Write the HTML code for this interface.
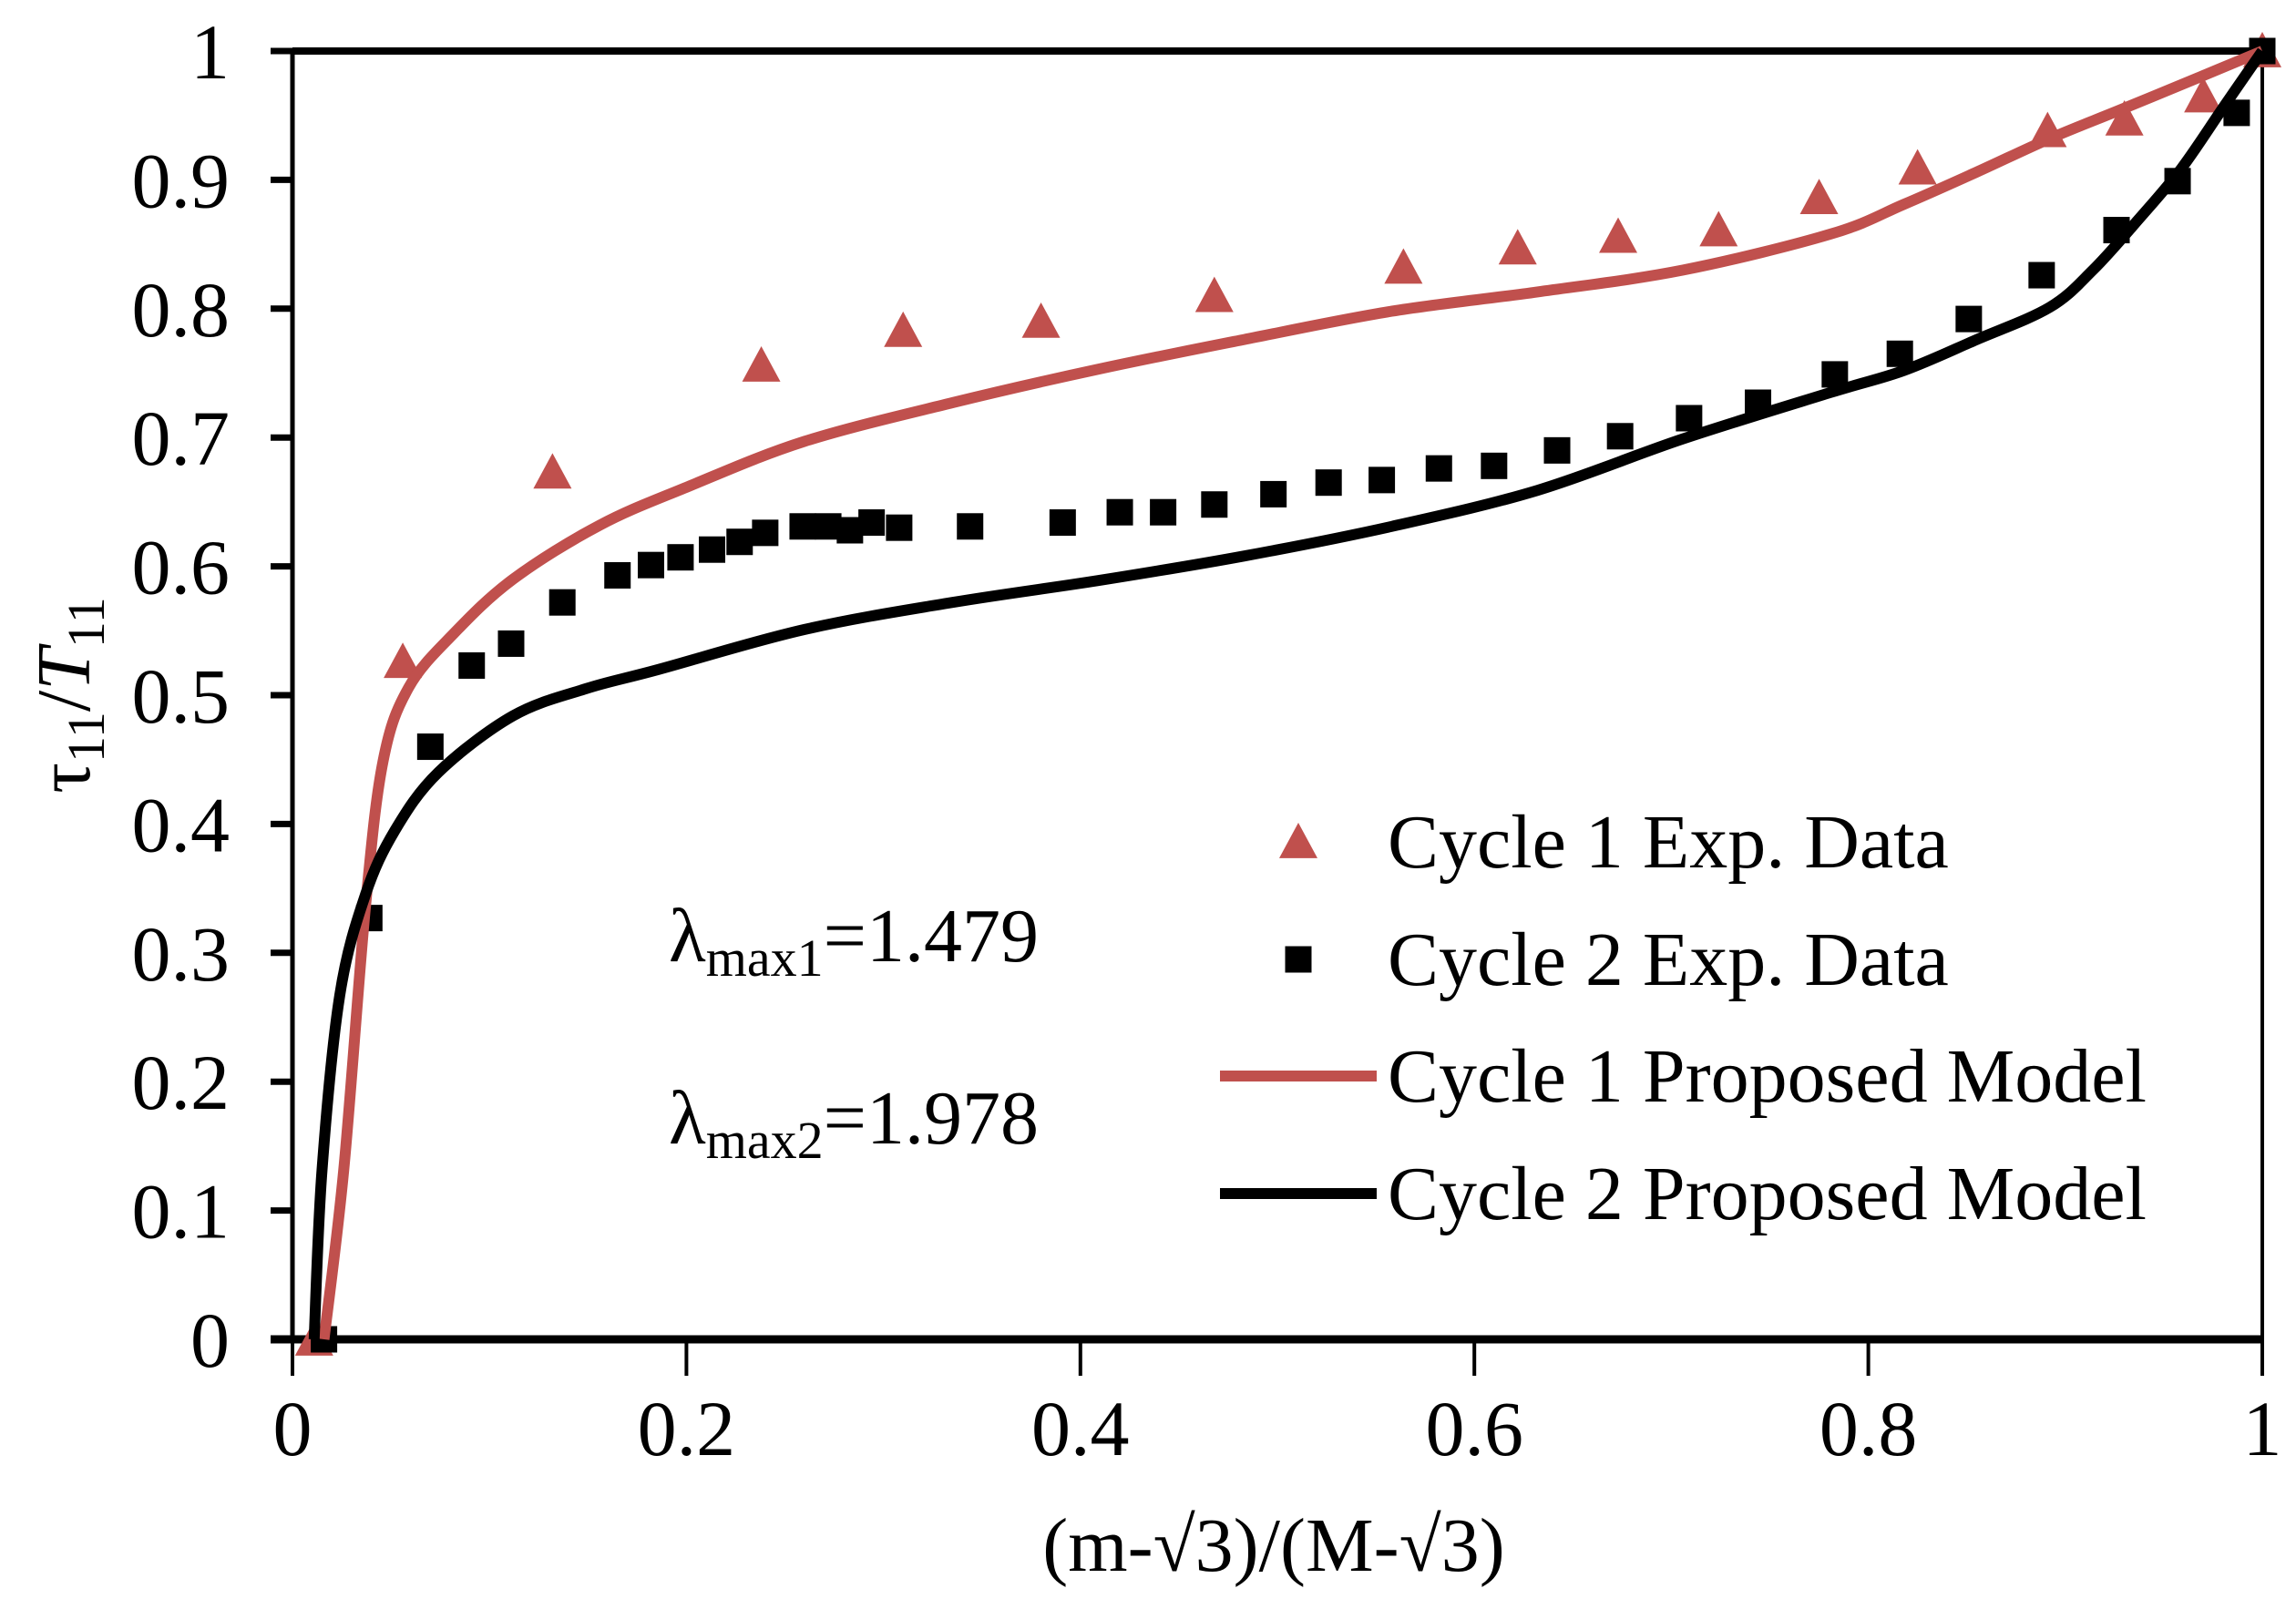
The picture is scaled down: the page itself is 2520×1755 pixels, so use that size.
<!DOCTYPE html>
<html><head><meta charset="utf-8"><style>
html,body{margin:0;padding:0;background:#fff;}
svg{display:block;font-family:"Liberation Serif",serif;}
</style></head><body>
<svg id="chart" width="2520" height="1755" viewBox="0 0 2520 1755" xmlns="http://www.w3.org/2000/svg">
<rect width="2520" height="1755" fill="#fff"/>
<g id="plot"></g>
</svg>
<script>
const xTicks=[0,0.2,0.4,0.6,0.8,1];
const xTickLabels=["0","0.2","0.4","0.6","0.8","1"];
const yTicks=[0,0.1,0.2,0.3,0.4,0.5,0.6,0.7,0.8,0.9,1];
const yTickLabels=["0","0.1","0.2","0.3","0.4","0.5","0.6","0.7","0.8","0.9","1"];
const c1ExpX=[0.011,0.056,0.132,0.238,0.310,0.380,0.468,0.564,0.622,0.673,0.724,0.775,0.825,0.891,0.930,0.970,1];
const c1ExpY=[0,0.526,0.673,0.756,0.783,0.790,0.810,0.832,0.847,0.856,0.861,0.886,0.909,0.938,0.947,0.965,1];
const c2ExpX=[0.016,0.039,0.070,0.091,0.111,0.137,0.165,0.182,0.197,0.213,0.227,0.240,0.259,0.272,0.283,0.294,0.308,0.344,0.391,0.420,0.442,0.468,0.498,0.526,0.553,0.582,0.610,0.642,0.674,0.709,0.744,0.783,0.816,0.851,0.888,0.926,0.957,0.987,1];
const c2ExpY=[0,0.327,0.460,0.523,0.540,0.572,0.593,0.601,0.607,0.613,0.619,0.626,0.631,0.631,0.628,0.634,0.630,0.631,0.634,0.642,0.642,0.648,0.656,0.665,0.667,0.676,0.678,0.690,0.701,0.715,0.727,0.749,0.765,0.792,0.826,0.861,0.899,0.952,1];
const c1ModelX=[0.016,0.026,0.037,0.046,0.059,0.082,0.112,0.156,0.201,0.260,0.335,0.409,0.483,0.558,0.632,0.706,0.781,0.818,0.855,0.892,0.929,0.967,1];
const c1ModelY=[0,0.131,0.335,0.449,0.506,0.548,0.590,0.632,0.662,0.697,0.727,0.753,0.776,0.798,0.813,0.830,0.858,0.881,0.906,0.932,0.955,0.979,1];
const c2ModelX=[0.011,0.015,0.024,0.037,0.052,0.074,0.112,0.149,0.186,0.260,0.335,0.409,0.483,0.558,0.632,0.706,0.781,0.818,0.855,0.892,0.914,0.937,0.959,0.981,1];
const c2ModelY=[0,0.131,0.267,0.345,0.395,0.440,0.484,0.505,0.520,0.551,0.572,0.589,0.608,0.631,0.659,0.699,0.735,0.752,0.776,0.801,0.830,0.869,0.909,0.958,1];

const X0=321,X1=2483,Y0=1470,Y1=56;
const sx=v=>X0+(X1-X0)*v;
const sy=v=>Y0-(Y0-Y1)*v;
const NS="http://www.w3.org/2000/svg";
const g=document.getElementById('plot');
function mk(tag,attrs,parent){const e=document.createElementNS(NS,tag);for(const k in attrs)e.setAttribute(k,attrs[k]);(parent||g).appendChild(e);return e;}
const RED="#c0504d";

let e;
e=mk('line',{x1:X0,y1:Y1,x2:X1,y2:Y1,stroke:'#000','stroke-width':8});


e=mk('line',{x1:X1,y1:Y1,x2:X1,y2:Y0,stroke:'#000','stroke-width':4});


e=mk('line',{x1:X0,y1:Y1,x2:X0,y2:Y0,stroke:'#000','stroke-width':5});


e=mk('line',{x1:X0-24,y1:Y0,x2:X1,y2:Y0,stroke:'#000','stroke-width':9});



yTicks.forEach((v,i)=>{
  let t=mk('line',{x1:X0-24,y1:sy(v),x2:X0,y2:sy(v),stroke:'#000','stroke-width':7});
  
  
  let l=mk('text',{x:252,y:sy(v)+30,'text-anchor':'end','font-size':86});
  
  
  l.textContent=yTickLabels[i];
});
xTicks.forEach((v,i)=>{
  let t=mk('line',{x1:sx(v),y1:Y0,x2:sx(v),y2:Y0+40,stroke:'#000','stroke-width':4});
  
  
  let l=mk('text',{x:sx(v),y:1597,'text-anchor':'middle','font-size':86});
  
  
  l.textContent=xTickLabels[i];
});

function path(xs,ys,color,name){
  const P=xs.map((x,i)=>[sx(x),sy(ys[i])]);
  let d='M'+P[0][0].toFixed(1)+' '+P[0][1].toFixed(1);
  for(let i=0;i<P.length-1;i++){
    const p0=P[Math.max(0,i-1)],p1=P[i],p2=P[i+1],p3=P[Math.min(P.length-1,i+2)];
    const c1=[p1[0]+(p2[0]-p0[0])/6,p1[1]+(p2[1]-p0[1])/6];
    const c2=[p2[0]-(p3[0]-p1[0])/6,p2[1]-(p3[1]-p1[1])/6];
    d+=` C${c1[0].toFixed(1)} ${c1[1].toFixed(1)} ${c2[0].toFixed(1)} ${c2[1].toFixed(1)} ${p2[0].toFixed(1)} ${p2[1].toFixed(1)}`;
  }
  const p=mk('path',{d:d,fill:'none',stroke:color,'stroke-width':12,'stroke-linejoin':'round'});
  
  
}
function tri(cx,cy,name){
  const s=21;
  const p=mk('polygon',{points:`${cx},${cy-s} ${cx+s},${cy+s*0.85} ${cx-s},${cy+s*0.85}`,fill:RED});
  
  
}
function sq(cx,cy,name){
  const s=29;
  const p=mk('rect',{x:cx-s/2,y:cy-s/2,width:s,height:s,fill:'#000'});
  
  
}
c1ExpX.forEach((x,i)=>tri(sx(x),sy(c1ExpY[i]),'cycle1-exp-point'));
c2ExpX.forEach((x,i)=>sq(sx(x),sy(c2ExpY[i]),'cycle2-exp-point'));
path(c1ModelX,c1ModelY,RED,'cycle1-model-line');
path(c2ModelX,c2ModelY,'#000','cycle2-model-line');

const lg=mk('g',{});


const rows=[924,1053,1181,1310];
const labels=["Cycle 1 Exp. Data","Cycle 2 Exp. Data","Cycle 1 Proposed Model","Cycle 2 Proposed Model"];
tri(1425,rows[0],'legend-triangle');
sq(1425,rows[1],'legend-square');
e=mk('line',{x1:1339,y1:rows[2],x2:1511,y2:rows[2],stroke:RED,'stroke-width':12});


e=mk('line',{x1:1339,y1:rows[3],x2:1511,y2:rows[3],stroke:'#000','stroke-width':12});


labels.forEach((t,i)=>{
  const l=mk('text',{x:1523,y:rows[i]+28,'font-size':84},lg);
  
  
  l.textContent=t;
});
</script>
<svg style="position:absolute;left:0;top:0" width="2520" height="1755">
<text x="734" y="1055" font-family="Liberation Serif,serif" font-size="84">λ<tspan font-size="58" dy="16">max1</tspan><tspan dy="-16">=1.479</tspan></text>
<text x="734" y="1255" font-family="Liberation Serif,serif" font-size="84">λ<tspan font-size="58" dy="16">max2</tspan><tspan dy="-16">=1.978</tspan></text>
<text x="1398" y="1724" text-anchor="middle" font-family="Liberation Serif,serif" font-size="84">(m-√3)/(M-√3)</text>
<text transform="translate(98,763) rotate(-90)" text-anchor="middle" font-family="Liberation Serif,serif" font-size="84">τ<tspan font-size="58" dy="16">11</tspan><tspan dy="-16">/</tspan><tspan font-style="italic">T</tspan><tspan font-size="58" dy="16">11</tspan></text>
</svg>
</body></html>
